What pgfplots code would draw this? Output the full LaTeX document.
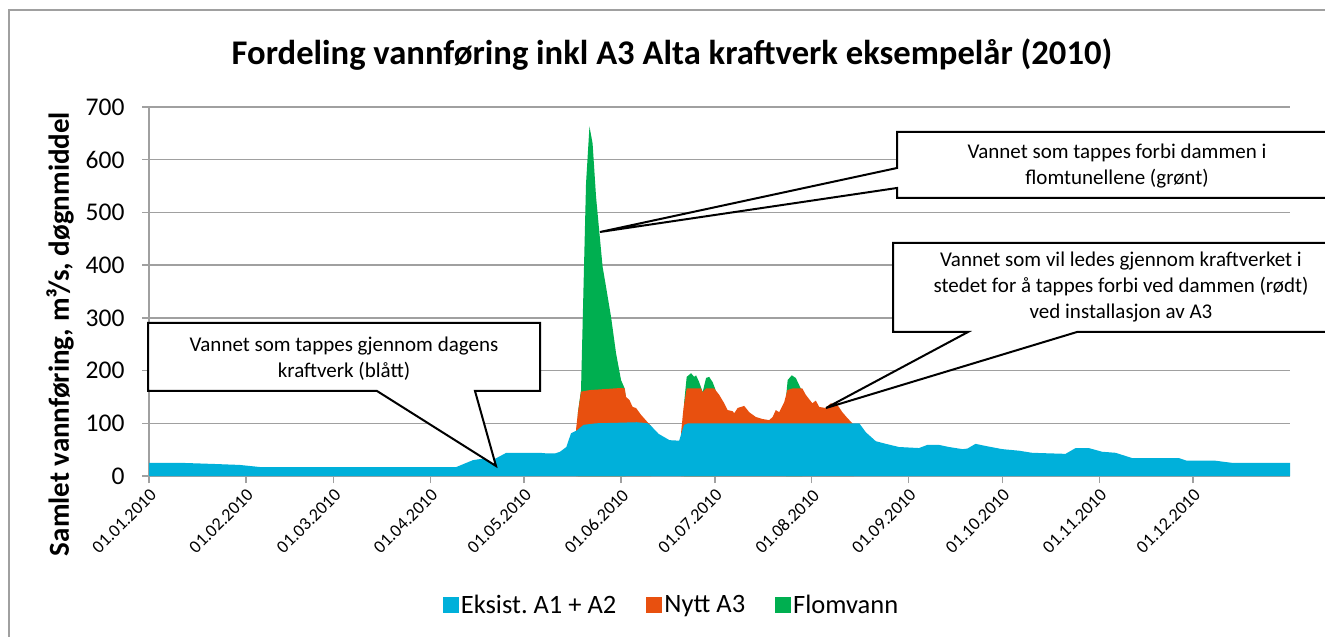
\documentclass[border=0pt]{standalone}
\usepackage{fontspec}
\setmainfont{Carlito}
\usepackage{pgfplots}
\pgfplotsset{compat=1.18}
\definecolor{cblue}{HTML}{00B0DA}
\definecolor{corange}{HTML}{E8500F}
\definecolor{cgreen}{HTML}{00AF50}
\definecolor{gridgray}{HTML}{A0A0A0}
\frenchspacing

\begin{document}
\begin{tikzpicture}[x=1pt,y=1pt]
\useasboundingbox (0,0) rectangle (1325,637);
\clip (0,0) rectangle (1325,637);
\fill[white] (0,0) rectangle (1325,637);
\draw[gridgray, line width=1.5pt] (9,-5) -- (9,627) -- (1330,627);
\node[font=\fontsize{34.6}{40}\selectfont\bfseries] at (672,582) {Fordeling vannføring inkl A3 Alta kraftverk eksempelår (2010)};
\node[rotate=90, font=\fontsize{29}{33}\selectfont\bfseries] at (60,303) {Samlet vannføring, m³/s, døgnmiddel};
\begin{axis}[
  at={(149pt,161pt)}, anchor=south west,
  scale only axis, width=1141pt, height=369pt,
  xmin=0, xmax=365, ymin=0, ymax=700,
  axis lines*=left,
  axis line style={gridgray, line width=1.5pt},
  ymajorgrids, grid style={gridgray, line width=1.5pt},
  xtick={0,31,59,90,120,151,181,212,243,273,304,334},
  xticklabels={01.01.2010,01.02.2010,01.03.2010,01.04.2010,01.05.2010,01.06.2010,01.07.2010,01.08.2010,01.09.2010,01.10.2010,01.11.2010,01.12.2010},
  ytick={0,100,...,700},
  tick align=outside,
  major tick length=7pt,
  tick style={gridgray, line width=1.5pt},
  x tick label style={rotate=45, anchor=north east, font=\fontsize{18}{20}\selectfont},
  y tick label style={font=\fontsize{25.5}{28}\selectfont, xshift=-14pt},
  /pgf/number format/assume math mode=true,
  legend style={at={(0.458,-0.35)}, anchor=center, legend columns=3, draw=none,
    font=\fontsize{26.5}{30}\selectfont,
    /tikz/every even column/.append style={column sep=28pt}},
  legend image code/.code={\fill[#1] (0pt,-8pt) rectangle (16pt,8pt);},
]
\addlegendimage{fill=cblue, draw=none}
\addlegendentry{Eksist. A1 + A2}
\addlegendimage{fill=corange, draw=none}
\addlegendentry{Nytt A3}
\addlegendimage{fill=cgreen, draw=none}
\addlegendentry{Flomvann}

% Flomvann (top of stack = total)
\addplot[fill=cgreen, draw=none, forget plot] coordinates {
(137.2,120) (138.2,163) (139.8,555) (140.9,663) (141.9,631) (143.0,530) (144.1,460)
(145.1,397) (146.2,359) (147.8,302) (149.4,233) (151.0,182) (152.1,167) (152.5,150)
} \closedcycle;
\addplot[fill=cgreen, draw=none, forget plot] coordinates {
(171.2,140) (172.0,188) (173.4,195) (174.4,188) (175.0,191) (176.0,178) (177.1,159)
(178.2,186) (179.2,188) (180.3,178) (181.2,164) (181.5,150)
} \closedcycle;
\addplot[fill=cgreen, draw=none, forget plot] coordinates {
(203.8,150) (204.3,182) (205.6,191) (206.9,186) (208.5,166) (209.0,160)
} \closedcycle;

% Nytt A3 (top of blue + orange)
\addplot[fill=corange, draw=none, forget plot] coordinates {
(136.6,88) (137.2,120) (138.2,160) (141,163) (146,165) (151,167) (152.2,166)
(152.6,150) (153.7,144) (154.7,131) (155.8,129) (157.4,116) (159.5,102) (160.6,95)
} \closedcycle;
\addplot[fill=corange, draw=none, forget plot] coordinates {
(170.2,82) (171.0,130) (172.0,166) (176.6,166) (177.1,159) (178.2,166) (180.8,166)
(182.4,154) (184.0,138) (185.1,125) (186.7,123) (187.2,119) (188.3,129) (190.4,133)
(192.0,121) (194.1,112) (196.3,108) (198.4,106) (199.5,112) (200.5,125) (201.6,121)
(203.2,140) (204.2,163) (205.8,166) (209.0,166) (210.1,154) (212.2,138) (213.3,143)
(214.4,131) (216.5,129) (218.1,138) (220.2,135) (221.8,121) (223.4,110) (225.0,100)
(225.5,97)
} \closedcycle;

% Eksist. A1 + A2
\addplot[fill=cblue, draw=none, forget plot] coordinates {
(0,25) (9.9,25) (20,23) (29,21) (35.5,17) (60,17) (80,17) (98.3,17) (103.6,30)
(107.9,34) (110.5,32) (114.3,44) (120,44) (124.9,44) (127,43) (130,43) (131.5,46)
(133.5,55) (135,81) (137,87) (139,97) (143,100) (150,101) (156,102) (159.5,100)
(160.6,95) (163,80) (166.5,68) (169.6,67) (170.5,85) (171.2,97) (172.5,100)
(200,100) (220.8,100) (227.2,100) (229.3,83) (232.5,66) (235.7,61) (239.9,55)
(246.3,53) (249.0,59) (252.7,59) (255.9,55) (260.2,51) (261.8,52) (264.4,61)
(267.6,57) (272.9,51) (278.3,48) (282.5,44) (293.2,42) (296.4,53) (300.6,53)
(304.9,46) (309.2,44) (314.5,34) (329.4,34) (332.0,29) (341.1,29) (346.4,25) (365,25)
} \closedcycle;
\end{axis}

% Callouts
\begin{scope}[line width=2pt, font=\fontsize{21}{26}\selectfont]
\filldraw[fill=white, draw=black] (148,314) -- (540,314) -- (540,246) -- (475,246) -- (496,171) -- (377,246) -- (148,246) -- cycle;
\node[align=center] at (344,278.5) {Vannet som tappes gjennom dagens\\kraftverk (blått)};
\filldraw[fill=white, draw=black] (897,505) -- (1340,505) -- (1340,439) -- (897,439) -- (897,449) -- (600,405) -- (897,469) -- cycle;
\node[align=center] at (1117,471) {Vannet som tappes forbi dammen i\\flomtunellene (grønt)};
\filldraw[fill=white, draw=black] (893,394) -- (1350,394) -- (1350,305) -- (1077,305) -- (826,229) -- (968,305) -- (893,305) -- cycle;
\node[align=center] at (1121,350) {Vannet som vil ledes gjennom kraftverket i\\stedet for å tappes forbi ved dammen (rødt)\\ved installasjon av A3};
\end{scope}
\end{tikzpicture}
\end{document}
